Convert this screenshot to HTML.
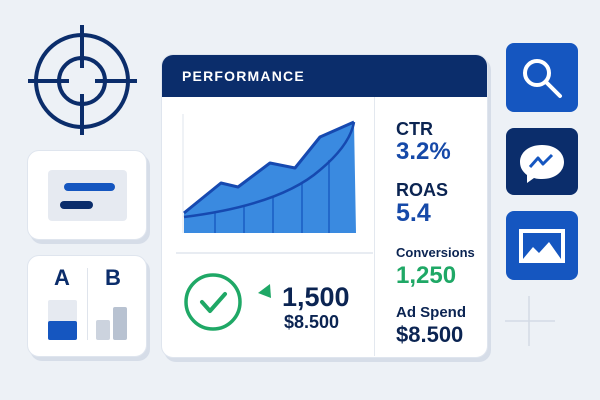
<!DOCTYPE html>
<html><head><style>
body{margin:0;width:600px;height:400px;background:#edf1f6;position:relative;overflow:hidden;font-family:"Liberation Sans",sans-serif}
.card{position:absolute;background:#fff;border-radius:12px;box-shadow:3px 4px 0 #d6dde8;border:1px solid #dfe5ee}
.t{position:absolute;font-weight:bold;white-space:nowrap}
</style></head><body>
<svg width="600" height="400" style="position:absolute;left:0;top:0">
<g stroke="#0b2d6b" stroke-width="4" fill="none">
<circle cx="82" cy="81" r="46"/><circle cx="82" cy="81" r="23"/>
<line x1="28" y1="81" x2="69" y2="81"/><line x1="95" y1="81" x2="137" y2="81"/>
<line x1="82" y1="25" x2="82" y2="68"/><line x1="82" y1="94" x2="82" y2="135"/>
</g>
<g stroke="#d3dae5" stroke-width="1.5"><line x1="529" y1="296" x2="529" y2="346"/><line x1="505" y1="321" x2="555" y2="321"/></g>
</svg>
<div class="card" style="left:27px;top:150px;width:118px;height:88px"></div>
<div style="position:absolute;left:48px;top:170px;width:79px;height:51px;background:#e6eaf1;border-radius:4px"></div>
<div style="position:absolute;left:64px;top:183px;width:51px;height:8px;background:#1556c0;border-radius:4px"></div>
<div style="position:absolute;left:60px;top:201px;width:33px;height:8px;background:#0b2d6b;border-radius:4px"></div>
<div class="card" style="left:27px;top:255px;width:118px;height:100px"></div>
<div class="t" style="left:54px;top:265px;font-size:22px;color:#0b2d6b">A</div>
<div class="t" style="left:105px;top:265px;font-size:22px;color:#0b2d6b">B</div>
<div style="position:absolute;left:87px;top:268px;width:1px;height:72px;background:#dfe4ec"></div>
<div style="position:absolute;left:48px;top:300px;width:29px;height:40px;background:#e6eaf1;border-radius:2px"></div>
<div style="position:absolute;left:48px;top:321px;width:29px;height:19px;background:#1556c0;border-radius:2px"></div>
<div style="position:absolute;left:96px;top:320px;width:14px;height:20px;background:#ccd3de;border-radius:2px"></div>
<div style="position:absolute;left:113px;top:307px;width:14px;height:33px;background:#b8c2d1;border-radius:2px"></div>

<div class="card" style="left:161px;top:54px;width:325px;height:302px;overflow:hidden">
<div style="height:42px;background:#0b2d6b"></div>
</div>
<div class="t" style="left:182px;top:68px;font-size:14px;color:#fff;letter-spacing:1.2px">PERFORMANCE</div>
<div style="position:absolute;left:374px;top:97px;width:1px;height:259px;background:#e3e8ef"></div>
<div style="position:absolute;left:176px;top:252px;width:197px;height:2px;background:#e8ecf2"></div>
<svg width="600" height="400" style="position:absolute;left:0;top:0">
<line x1="183" y1="114" x2="183" y2="233" stroke="#dfe4ec"/>
<path d="M184,213 L221,183 L238,187 L270,163 L295,168 L320,137 L354,122 L356,233 L184,233 Z" fill="#3a8ae0"/>
<g stroke="#1b5dc2" stroke-width="1.5"><line x1="215" y1="212" x2="215" y2="233"/><line x1="244" y1="205" x2="244" y2="233"/><line x1="273" y1="196" x2="273" y2="233"/><line x1="302" y1="182" x2="302" y2="233"/><line x1="329" y1="160" x2="329" y2="233"/></g>
<path d="M184,217 Q280,205 320,170 Q350,145 354,122" fill="none" stroke="#1649b0" stroke-width="2.5"/>
<path d="M184,213 L221,183 L238,187 L270,163 L295,168 L320,137 L354,122" fill="none" stroke="#1649b0" stroke-width="3" stroke-linejoin="round"/>
<circle cx="213" cy="302" r="27" fill="none" stroke="#1fa866" stroke-width="3.5"/>
<path d="M202,302 L210,311 L225,294" fill="none" stroke="#1fa866" stroke-width="4" stroke-linecap="round" stroke-linejoin="round"/>
<path d="M258,293 L270,284 L271,298 Z" fill="#1fa866"/>
</svg>
<div class="t" style="left:282px;top:282px;font-size:27px;color:#0b2452">1,500</div>
<div class="t" style="left:284px;top:312px;font-size:18px;color:#0b2452">$8.500</div>
<div class="t" style="left:396px;top:119px;font-size:18px;color:#0b2452">CTR</div>
<div class="t" style="left:396px;top:138px;font-size:24px;color:#1649a8">3.2%</div>
<div class="t" style="left:396px;top:180px;font-size:18px;color:#0b2452">ROAS</div>
<div class="t" style="left:396px;top:199px;font-size:25px;color:#1649a8">5.4</div>
<div class="t" style="left:396px;top:245px;font-size:13px;color:#0b2452">Conversions</div>
<div class="t" style="left:396px;top:262px;font-size:24px;color:#1fa866">1,250</div>
<div class="t" style="left:396px;top:304px;font-size:15px;color:#0b2452">Ad Spend</div>
<div class="t" style="left:396px;top:322px;font-size:22px;color:#0b2452">$8.500</div>

<div style="position:absolute;left:506px;top:43px;width:72px;height:69px;background:#1556c0;border-radius:8px"></div>
<div style="position:absolute;left:506px;top:128px;width:72px;height:67px;background:#0b2d6b;border-radius:8px"></div>
<div style="position:absolute;left:506px;top:211px;width:72px;height:69px;background:#1556c0;border-radius:8px"></div>
<svg width="600" height="400" style="position:absolute;left:0;top:0">
<circle cx="537" cy="73" r="12" fill="none" stroke="#fff" stroke-width="4"/>
<line x1="546" y1="82" x2="560" y2="96" stroke="#fff" stroke-width="4" stroke-linecap="round"/>
<path d="M542,145 C528,145 520,153 520,162 C520,168 523,172 527,175 L527,183 L534,178 C537,179 540,179 542,179 C556,179 564,171 564,162 C564,153 556,145 542,145 Z" fill="#fff"/>
<path d="M530,167 L538,158 L543,164 L552,155" fill="none" stroke="#1556c0" stroke-width="3" stroke-linejoin="round"/>
<rect x="521" y="231" width="42" height="30" fill="none" stroke="#fff" stroke-width="4"/>
<path d="M523,259 L533,247 L539,253 L549,242 L561,259 Z" fill="#fff"/>
</svg>
</body></html>
